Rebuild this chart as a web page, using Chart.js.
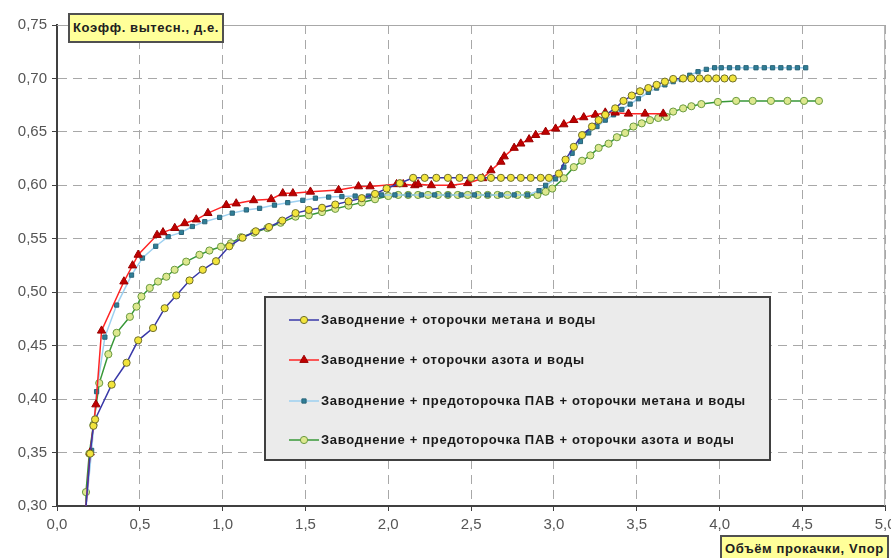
<!DOCTYPE html>
<html>
<head>
<meta charset="utf-8">
<script src="https://cdn.jsdelivr.net/npm/chart.js@4"></script>
<style>
  html, body { margin: 0; padding: 0; background: #fff; }
  #wrap { position: relative; width: 891px; height: 558px; overflow: hidden; }
  canvas { position: absolute; left: 0; top: 0; }
  .tag {
    position: absolute; background: #ffff99; border: 2px solid #505050;
    font: bold 13px "Liberation Sans", Arial, sans-serif; color: #202020; letter-spacing: 0.6px;
    padding: 0 3px; line-height: 24px; white-space: nowrap; box-sizing: border-box;
  }
</style>
</head>
<body>
<div id="wrap">
  <canvas id="c" width="891" height="558"></canvas>
  <div class="tag" style="left:68px; top:13px; height:30px; line-height:26px;">Коэфф. вытесн., д.е.</div>
  <div class="tag" style="left:720px; top:535px; height:26px;">Объём прокачки, Vпор</div>
</div>
<script>
const el = (id) => document.getElementById(id);

// метан + вода
const s1x = [0.17, 0.20, 0.22, 0.23, 0.33, 0.42, 0.49, 0.58, 0.65, 0.72, 0.80, 0.88, 0.96, 1.04, 1.12, 1.20, 1.28, 1.36, 1.44,
  1.52, 1.60, 1.68, 1.76, 1.84, 1.92, 1.99, 2.07, 2.15, 2.22, 2.29, 2.36, 2.43, 2.50, 2.56, 2.62, 2.68, 2.74, 2.80, 2.86, 2.92, 2.97,
  3.03, 3.07, 3.12, 3.17, 3.23, 3.27, 3.31, 3.37, 3.42, 3.47, 3.52, 3.57, 3.62, 3.67, 3.72, 3.78, 3.83, 3.88, 3.93, 3.98, 4.03, 4.08];
const s1y = [0.29, 0.349, 0.375, 0.381, 0.4135, 0.434, 0.455, 0.4665, 0.485, 0.497, 0.511, 0.521, 0.529, 0.543, 0.551, 0.557, 0.561, 0.567, 0.574,
  0.577, 0.579, 0.582, 0.585, 0.588, 0.592, 0.597, 0.602, 0.607, 0.607, 0.607, 0.607, 0.607, 0.607, 0.607, 0.607, 0.607, 0.607, 0.607, 0.607, 0.607, 0.607,
  0.611, 0.624, 0.636, 0.647, 0.655, 0.661, 0.666, 0.672, 0.679, 0.684, 0.688, 0.691, 0.694, 0.697, 0.6995, 0.70, 0.70, 0.70, 0.70, 0.70, 0.70, 0.70];

// азот + вода
const s2x = [0.17, 0.20, 0.235, 0.269, 0.404, 0.456, 0.49, 0.604, 0.64, 0.711, 0.771, 0.841, 0.911, 1.022, 1.082, 1.187, 1.293, 1.363, 1.424,
  1.53, 1.70, 1.82, 1.89, 2.05, 2.09, 2.16, 2.18, 2.26, 2.38, 2.48, 2.57, 2.62, 2.68, 2.70, 2.76, 2.80, 2.85, 2.89, 2.95, 3.01, 3.06,
  3.12, 3.18, 3.25, 3.31, 3.37, 3.45, 3.55, 3.66];
const s2y = [0.29, 0.35, 0.395, 0.464, 0.51, 0.525, 0.535, 0.5535, 0.556, 0.56, 0.5645, 0.568, 0.574, 0.5815, 0.583, 0.586, 0.587, 0.5925, 0.5925,
  0.594, 0.5956, 0.599, 0.599, 0.601, 0.601, 0.600, 0.601, 0.600, 0.600, 0.602, 0.6066, 0.614, 0.622, 0.627, 0.635, 0.639, 0.643, 0.647, 0.650, 0.653, 0.657,
  0.661, 0.6636, 0.666, 0.668, 0.668, 0.667, 0.667, 0.667];

// ПАВ + метан + вода
const s3x = [0.17, 0.209, 0.239, 0.289, 0.36, 0.45, 0.516, 0.596, 0.671, 0.751, 0.817, 0.892, 0.982, 1.058, 1.143, 1.223, 1.313, 1.393, 1.484,
  1.56, 1.64, 1.72, 1.80, 1.88, 1.96, 2.04, 2.12, 2.20, 2.28, 2.36, 2.44, 2.52, 2.60, 2.68, 2.76, 2.84, 2.91, 2.95, 3.01, 3.06, 3.11,
  3.16, 3.21, 3.26, 3.31, 3.36, 3.41, 3.46, 3.51, 3.57, 3.62, 3.67, 3.72, 3.77, 3.82, 3.87, 3.92, 3.97, 4.01, 4.06, 4.11, 4.16, 4.22,
  4.27, 4.32, 4.37, 4.42, 4.47, 4.52];
const s3y = [0.29, 0.352, 0.407, 0.458, 0.488, 0.516, 0.532, 0.543, 0.552, 0.556, 0.5615, 0.566, 0.570, 0.574, 0.577, 0.5785, 0.5815, 0.5838, 0.586,
  0.588, 0.589, 0.5895, 0.590, 0.590, 0.591, 0.591, 0.591, 0.591, 0.591, 0.591, 0.591, 0.591, 0.591, 0.591, 0.591, 0.591, 0.595, 0.600, 0.606, 0.617, 0.630,
  0.641, 0.649, 0.655, 0.661, 0.666, 0.671, 0.676, 0.681, 0.687, 0.691, 0.694, 0.697, 0.699, 0.703, 0.7063, 0.7085, 0.710, 0.710, 0.710, 0.710, 0.710, 0.710,
  0.710, 0.710, 0.710, 0.710, 0.710, 0.710];

// ПАВ + азот + вода
const s4x = [0.17, 0.175, 0.195, 0.22, 0.255, 0.31, 0.36, 0.44, 0.48, 0.51, 0.56, 0.61, 0.66, 0.71, 0.78, 0.86, 0.92, 0.99, 1.05, 1.11,
  1.19, 1.27, 1.35, 1.44, 1.52, 1.60, 1.68, 1.76, 1.84, 1.92, 2.00, 2.06, 2.12, 2.18, 2.24, 2.30, 2.36, 2.42, 2.48, 2.54, 2.60, 2.66,
  2.72, 2.78, 2.84, 2.90, 2.95, 2.99, 3.06, 3.12, 3.17, 3.22, 3.27, 3.33, 3.38, 3.43, 3.48, 3.53, 3.58, 3.63, 3.68, 3.72, 3.78, 3.83,
  3.89, 3.99, 4.10, 4.20, 4.31, 4.41, 4.51, 4.60];
const s4y = [0.29, 0.313, 0.349, 0.376, 0.415, 0.442, 0.462, 0.477, 0.4865, 0.496, 0.504, 0.51, 0.5145, 0.521, 0.5286, 0.535, 0.539, 0.5426, 0.5458, 0.5514,
  0.5557, 0.56, 0.565, 0.5707, 0.572, 0.575, 0.578, 0.581, 0.584, 0.587, 0.590, 0.591, 0.591, 0.591, 0.591, 0.591, 0.591, 0.591, 0.591, 0.591, 0.591, 0.591,
  0.591, 0.591, 0.591, 0.591, 0.594, 0.597, 0.6066, 0.617, 0.623, 0.628, 0.635, 0.639, 0.645, 0.649, 0.655, 0.658, 0.661, 0.663, 0.664, 0.669, 0.672, 0.674,
  0.676, 0.678, 0.679, 0.679, 0.679, 0.679, 0.679, 0.679];

const seriesNames = [
  'Заводнение + оторочки метана и воды',
  'Заводнение + оторочки азота и воды',
  'Заводнение + предоторочка ПАВ + оторочки метана и воды',
  'Заводнение + предоторочка ПАВ + оторочки азота и воды'
];

const pts = (xs, ys) => xs.map((x, i) => ({ x, y: ys[i] }));
const FONT = '"Liberation Sans", Arial, sans-serif';

// rectangle around plot area + legend box
const frame = {
  id: 'frame',
  beforeDatasetsDraw(chart) {
    const { ctx, chartArea: a } = chart;
    ctx.save();
    ctx.strokeStyle = '#a8a8a8';
    ctx.lineWidth = 1;
    ctx.beginPath();
    ctx.moveTo(a.left, a.top + 0.5);
    ctx.lineTo(a.right - 0.5, a.top + 0.5);
    ctx.lineTo(a.right - 0.5, a.bottom);
    ctx.stroke();
    ctx.restore();
  },
  afterDatasetsDraw(chart) {
    const { ctx } = chart;
    const bx = 265, by = 297, bw = 505, bh = 163;
    ctx.save();
    ctx.fillStyle = '#ebebeb';
    ctx.fillRect(bx, by, bw, bh);
    ctx.strokeStyle = '#404040';
    ctx.lineWidth = 2;
    ctx.strokeRect(bx, by, bw, bh);
    const rows = [320, 360, 401, 440];
    chart.data.datasets.forEach((ds, i) => {
      const y = rows[i];
      ctx.strokeStyle = ds.borderColor;
      ctx.lineWidth = ds.borderWidth;
      ctx.beginPath();
      ctx.moveTo(289, y);
      ctx.lineTo(319, y);
      ctx.stroke();
      ctx.fillStyle = ds.pointBackgroundColor;
      ctx.strokeStyle = ds.pointBorderColor;
      ctx.lineWidth = 1;
      Chart.helpers.drawPoint(ctx, { pointStyle: ds.pointStyle, radius: ds.pointRadius, borderWidth: 1, rotation: 0 }, 304, y);
      ctx.fillStyle = '#1a1a1a';
      ctx.font = 'bold 13px ' + FONT;
      ctx.letterSpacing = '0.7px';
      ctx.textBaseline = 'middle';
      ctx.fillText(ds.label, 321, y);
      ctx.letterSpacing = '0px';
    });
    ctx.restore();
  }
};

const mk = (label, xs, ys, line, fill, edge, style, r) => ({
  label, data: pts(xs, ys),
  borderColor: line, borderWidth: 1.5,
  pointBackgroundColor: fill, pointBorderColor: edge, pointBorderWidth: 1,
  pointStyle: style, pointRadius: r, pointHoverRadius: r,
  tension: 0, clip: { left: 0, top: 6, right: 6, bottom: 0 }
});

new Chart(el('c').getContext('2d'), {
  type: 'line',
  data: {
    datasets: [
      mk(seriesNames[0], s1x, s1y, '#3838a8', '#f2e43c', '#6e6e2a', 'circle', 3.6),
      mk(seriesNames[1], s2x, s2y, '#ff2424', '#c00000', '#9a0000', 'triangle', 4.8),
      mk(seriesNames[2], s3x, s3y, '#9dd0f0', '#2f7f98', '#2a6478', 'rect', 3),
      mk(seriesNames[3], s4x, s4y, '#389838', '#dde88e', '#6a9a40', 'circle', 3.6)
    ]
  },
  options: {
    animation: false,
    responsive: false,
    layout: { padding: { top: 25, right: 4, left: 0, bottom: 0 } },
    plugins: { legend: { display: false }, tooltip: { enabled: false } },
    scales: {
      x: {
        type: 'linear', min: 0, max: 5,
        ticks: {
          stepSize: 0.5, color: '#555', font: { family: FONT, size: 15 }, padding: 5, maxRotation: 0,
          callback: (v) => v.toFixed(1).replace('.', ',')
        },
        grid: { color: '#a8a8a8', lineWidth: 1, tickLength: 5, tickColor: '#404040' },
        border: { display: true, color: '#404040', width: 2, dash: [9, 6] },
        afterFit(s) { s.height = 52; s.paddingRight = 0; s.paddingLeft = 0; }
      },
      y: {
        min: 0.30, max: 0.75,
        ticks: {
          stepSize: 0.05, color: '#555', font: { family: FONT, size: 15 }, padding: 5,
          callback: (v) => v.toFixed(2).replace('.', ',')
        },
        grid: { color: '#a8a8a8', lineWidth: 1, tickLength: 5, tickColor: '#404040' },
        border: { display: true, color: '#404040', width: 2, dash: [9, 6] },
        afterFit(s) { s.width = 57; }
      }
    }
  },
  plugins: [frame]
});
</script>
</body>
</html>
